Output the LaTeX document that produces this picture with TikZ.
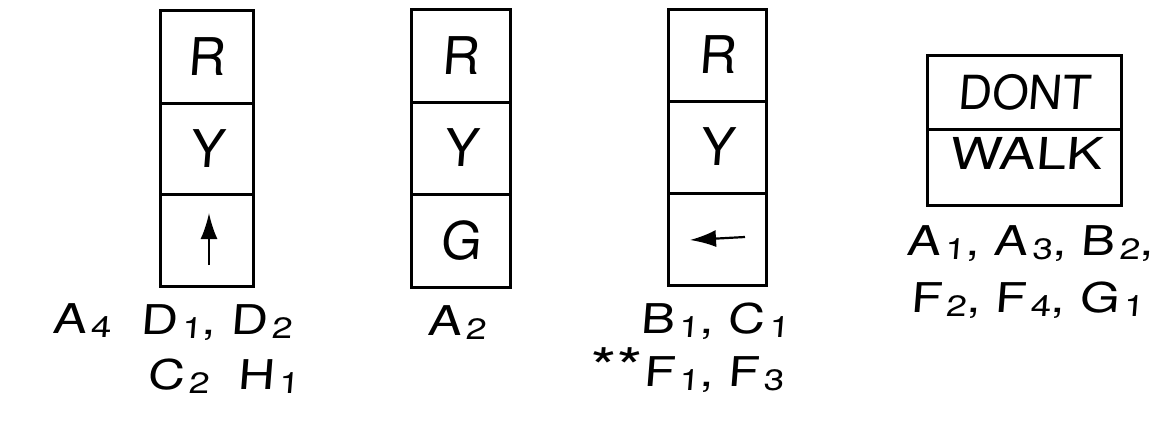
\documentclass[tikz,border=0pt]{standalone}
\usepackage{fontspec}
\usepackage{graphicx}
\newfontfamily\hand[FakeSlant=0.08]{TeX Gyre Heros}
\newfontfamily\handw[FakeSlant=0.08,FakeStretch=1.25]{TeX Gyre Heros}
\usetikzlibrary{arrows.meta}
\newcommand\lo[1]{\kern0.1em\raisebox{-0.12em}{\scalebox{0.72}{#1}}}
\begin{document}
\begin{tikzpicture}[x=1pt,y=-1pt,
  cell/.style={draw, line width=3pt, inner sep=0pt, anchor=center,
    font=\hand\fontsize{52}{52}\selectfont},
  celltext/.style={inner sep=0pt, anchor=center, font=\hand\fontsize{48}{48}\selectfont},
  lbl/.style={anchor=base west, inner sep=0pt, font=\handw\fontsize{41}{41}\selectfont},
  arr/.style={line width=2.2pt, -{Latex[length=26pt,width=17pt]}}]
\useasboundingbox (0,0) rectangle (1176,421);
% signal 1
\node[cell, minimum width=93pt, minimum height=93pt] (a1) at (206.5,56.5) {R};
\node[cell, minimum width=93pt, minimum height=91pt] (a2) at (206.5,148.5) {Y};
\node[cell, minimum width=93pt, minimum height=92pt] (a3) at (206.5,240) {};
\coordinate (up1s) at (209,265);
\coordinate (up1e) at (209,213);
\draw[arr] (up1s) -- (up1e);
% signal 2
\node[cell, minimum width=99pt, minimum height=93pt] (b1) at (460.5,55.5) {R};
\node[cell, minimum width=99pt, minimum height=92pt] (b2) at (460.5,148) {Y};
\node[cell, minimum width=99pt, minimum height=93pt] (b3) at (460.5,240.5) {G};
% signal 3
\node[cell, minimum width=98pt, minimum height=92pt] (c1) at (717,55) {R};
\node[cell, minimum width=98pt, minimum height=92pt] (c2) at (717,147) {Y};
\node[cell, minimum width=98pt, minimum height=92pt] (c3) at (717,239) {};
\coordinate (lf3s) at (745,237);
\coordinate (lf3e) at (690,240);
\draw[arr] (lf3s) -- (lf3e);
% pedestrian signal
\node[cell, minimum width=194pt, minimum height=74pt, font=\hand\fontsize{47}{47}\selectfont] (d1) at (1024,92) {DONT};
\node[cell, minimum width=194pt, minimum height=76pt] (d2) at (1024,167) {};
\node[celltext, font=\handw\fontsize{44}{44}\selectfont] (walk) at (1026,153) {WALK};
% labels
\node[lbl] (l1) at (52,333) {A\lo{4}};
\node[lbl] (l2) at (140,334) {D\lo{1}, D\lo{2}};
\node[lbl] (l3) at (147,389) {C\lo{2}\ \ H\lo{1}};
\node[lbl] (l4) at (427,335) {A\lo{2}};
\node[lbl] (l5) at (640,333) {B\lo{1}, C\lo{1}};
\node[lbl] (l6) at (588,386) {\scalebox{1.3}{**}\kern0.08em F\lo{1}, F\lo{3}};
\node[lbl] (l7) at (906,255) {A\lo{1}, A\lo{3}, B\lo{2},};
\node[lbl] (l8) at (910,312) {F\lo{2}, F\lo{4}, G\lo{1}};
\end{tikzpicture}
\end{document}
